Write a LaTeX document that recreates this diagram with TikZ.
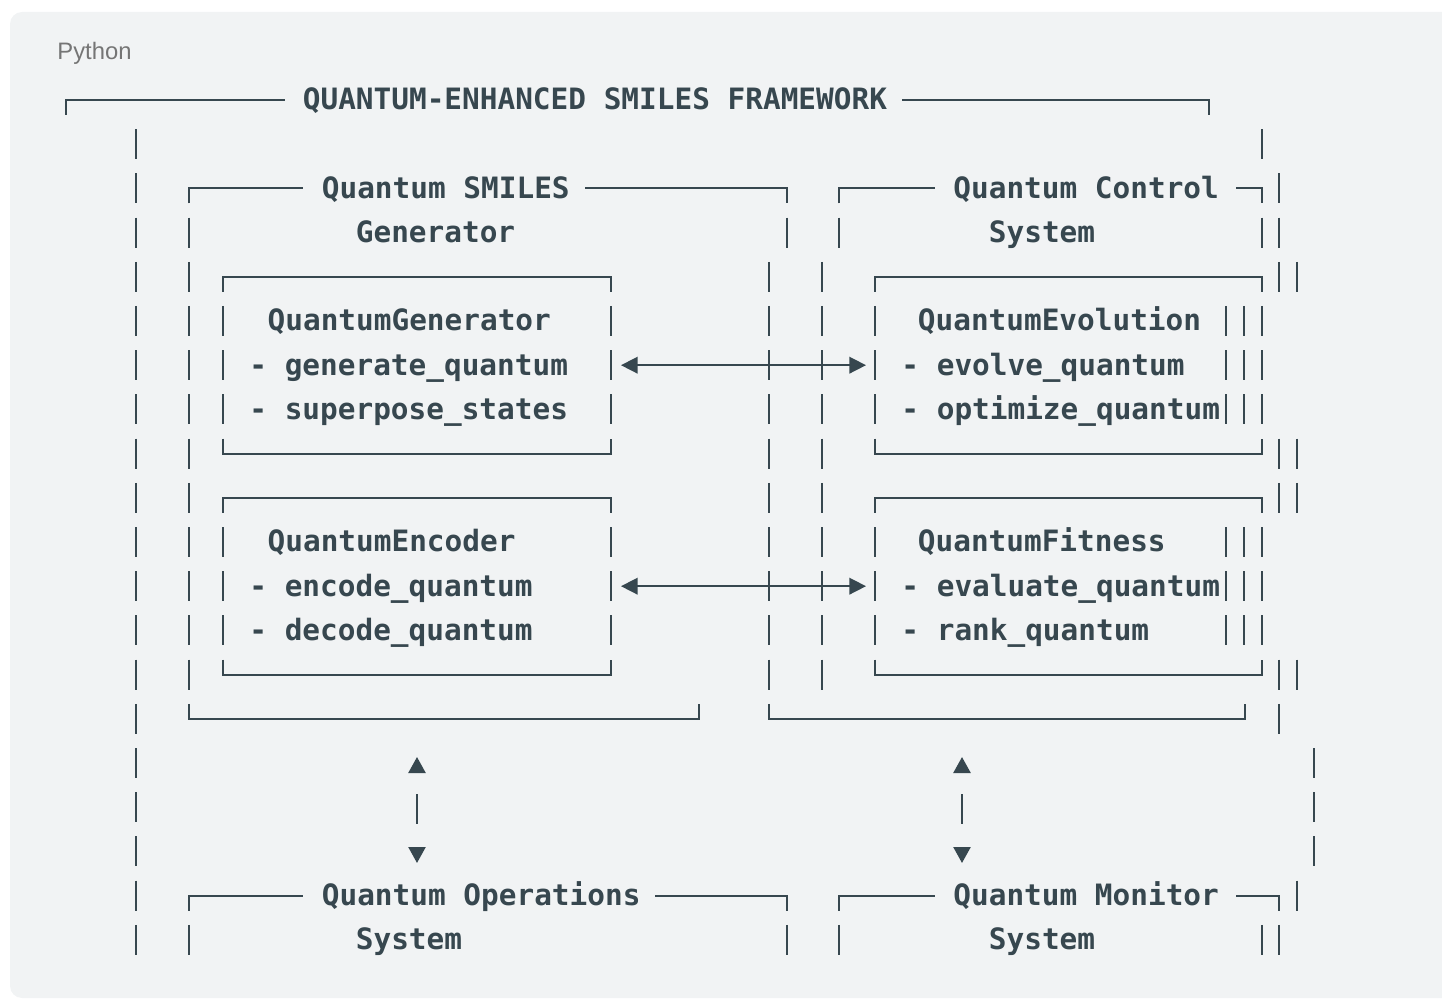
\documentclass[tikz,border=0pt]{standalone}
\usepackage{fontspec}
\setmainfont{Liberation Sans}
\newfontfamily\codefont{DejaVu Sans Mono}
\usetikzlibrary{arrows.meta}
\definecolor{codebg}{RGB}{241,243,244}
\definecolor{ink}{RGB}{55,71,79}
\definecolor{langgray}{RGB}{117,117,117}

\begin{document}
\begin{tikzpicture}[x=0.5pt, y=-0.5pt]
    \tikzset{
        codeText/.style={font=\codefont\bfseries\fontsize{14.7pt}{17pt}\selectfont, text=ink, inner sep=0pt, anchor=base west},
        frame/.style={draw=ink, line width=1pt},
        bar/.style={draw=ink, line width=1.2pt},
        callArrow/.style={draw=ink, line width=0.8pt, {Triangle[length=8.3pt, width=8.3pt]}-{Triangle[length=8.3pt, width=8.3pt]}},
        dockArrow/.style={draw=ink, line width=1.2pt, dash pattern=on 15pt off 50pt, dash phase=54pt,
            {Triangle[length=8pt, width=8.5pt]}-{Triangle[length=8pt, width=8.5pt]}}
    }

    \useasboundingbox (0,0) rectangle (1442,1000);
    \clip (0,0) rectangle (1442,1000);
    \fill[codebg, rounded corners=6pt] (10,12) rectangle (1454,998);

    \node[anchor=base west, inner sep=0pt, font=\fontsize{11.9pt}{14pt}\selectfont, text=langgray] (langTag) at (57,60) {Python};

    % titles
    \node[codeText] (frameTitle) at (302.5,110) {QUANTUM-ENHANCED SMILES FRAMEWORK};
    \node[codeText] (genTitle) at (321.5,198.4) {Quantum SMILES};
    \node[codeText] (genTitleB) at (355.5,242.6) {Generator};
    \node[codeText] (ctlTitle) at (953,198.4) {Quantum Control};
    \node[codeText] (ctlTitleB) at (988.5,242.6) {System};
    \node[codeText] (opsTitle) at (321.5,905.6) {Quantum Operations};
    \node[codeText] (opsTitleB) at (355.5,949.8) {System};
    \node[codeText] (monTitle) at (953,905.6) {Quantum Monitor};
    \node[codeText] (monTitleB) at (988.5,949.8) {System};

    % inner classes
    \node[codeText] (qGen) at (267.3,331) {QuantumGenerator};
    \node[codeText] (qGenA) at (249,375.2) {- generate\_quantum};
    \node[codeText] (qGenB) at (249,419.4) {- superpose\_states};
    \node[codeText] (qEnc) at (267.3,552) {QuantumEncoder};
    \node[codeText] (qEncA) at (249,596.2) {- encode\_quantum};
    \node[codeText] (qEncB) at (249,640.4) {- decode\_quantum};
    \node[codeText] (qEvo) at (917.5,331) {QuantumEvolution};
    \node[codeText] (qEvoA) at (901,375.2) {- evolve\_quantum};
    \node[codeText] (qEvoB) at (901,419.4) {- optimize\_quantum};
    \node[codeText] (qFit) at (917.5,552) {QuantumFitness};
    \node[codeText] (qFitA) at (901,596.2) {- evaluate\_quantum};
    \node[codeText] (qFitB) at (901,640.4) {- rank\_quantum};

    % box edges
    \draw[frame] (66,115) -- (66,100) -- (285,100);
    \draw[frame] (902,100) -- (1209,100) -- (1209,115);
    \draw[frame] (189,203.4) -- (189,188.4) -- (303,188.4);
    \draw[frame] (585,188.4) -- (787,188.4) -- (787,203.4);
    \draw[frame] (839,203.4) -- (839,188.4) -- (935,188.4);
    \draw[frame] (1236,188.4) -- (1262,188.4) -- (1262,203.4);
    \draw[frame] (189,910.6) -- (189,895.6) -- (303,895.6);
    \draw[frame] (655,895.6) -- (787,895.6) -- (787,910.6);
    \draw[frame] (839,910.6) -- (839,895.6) -- (935,895.6);
    \draw[frame] (1236,895.6) -- (1279,895.6) -- (1279,910.6);
    \foreach \y in {276.8,497.8} {
        \draw[frame] (223,\y+15) -- (223,\y) -- (611,\y) -- (611,\y+15);
        \draw[frame] (875,\y+15) -- (875,\y) -- (1262,\y) -- (1262,\y+15);
    }
    \foreach \y in {453.6,674.6} {
        \draw[frame] (223,\y-15) -- (223,\y) -- (611,\y) -- (611,\y-15);
        \draw[frame] (875,\y-15) -- (875,\y) -- (1262,\y) -- (1262,\y-15);
    }
    \draw[frame] (189,703.8) -- (189,718.8) -- (699,718.8) -- (699,703.8);
    \draw[frame] (769,703.8) -- (769,718.8) -- (1245,718.8) -- (1245,703.8);

    % side bars
    \foreach \y in {321,365.2,409.4,542,586.2,630.4}
        \foreach \x in {136,189,223,611,769,822,875,1226,1244,1262}
            \draw[bar] (\x,\y-15) -- (\x,\y+15);
    \foreach \y in {276.8,453.6,497.8,674.6}
        \foreach \x in {136,189,769,822,1279,1297}
            \draw[bar] (\x,\y-15) -- (\x,\y+15);
    \foreach \y in {232.6,939.8}
        \foreach \x in {136,189,787,839,1262,1279}
            \draw[bar] (\x,\y-15) -- (\x,\y+15);
    \foreach \y in {763,807.2,851.4}
        \foreach \x in {136,1314}
            \draw[bar] (\x,\y-15) -- (\x,\y+15);
    \foreach \y/\x in {144.2/136,144.2/1262,188.4/136,188.4/1279,718.8/136,718.8/1279,895.6/136,895.6/1297}
        \draw[bar] (\x,\y-15) -- (\x,\y+15);

    % links
    \coordinate (genPort) at (621,365.2);
    \coordinate (evoPort) at (866,365.2);
    \coordinate (encPort) at (621,586.2);
    \coordinate (fitPort) at (866,586.2);
    \draw[callArrow] (genPort) -- (evoPort);
    \draw[callArrow] (encPort) -- (fitPort);

    \coordinate (genDock) at (417,757);
    \coordinate (opsDock) at (417,863);
    \coordinate (ctlDock) at (962,757);
    \coordinate (monDock) at (962,863);
    \draw[dockArrow] (genDock) -- (opsDock);
    \draw[dockArrow] (ctlDock) -- (monDock);
\end{tikzpicture}
\end{document}
